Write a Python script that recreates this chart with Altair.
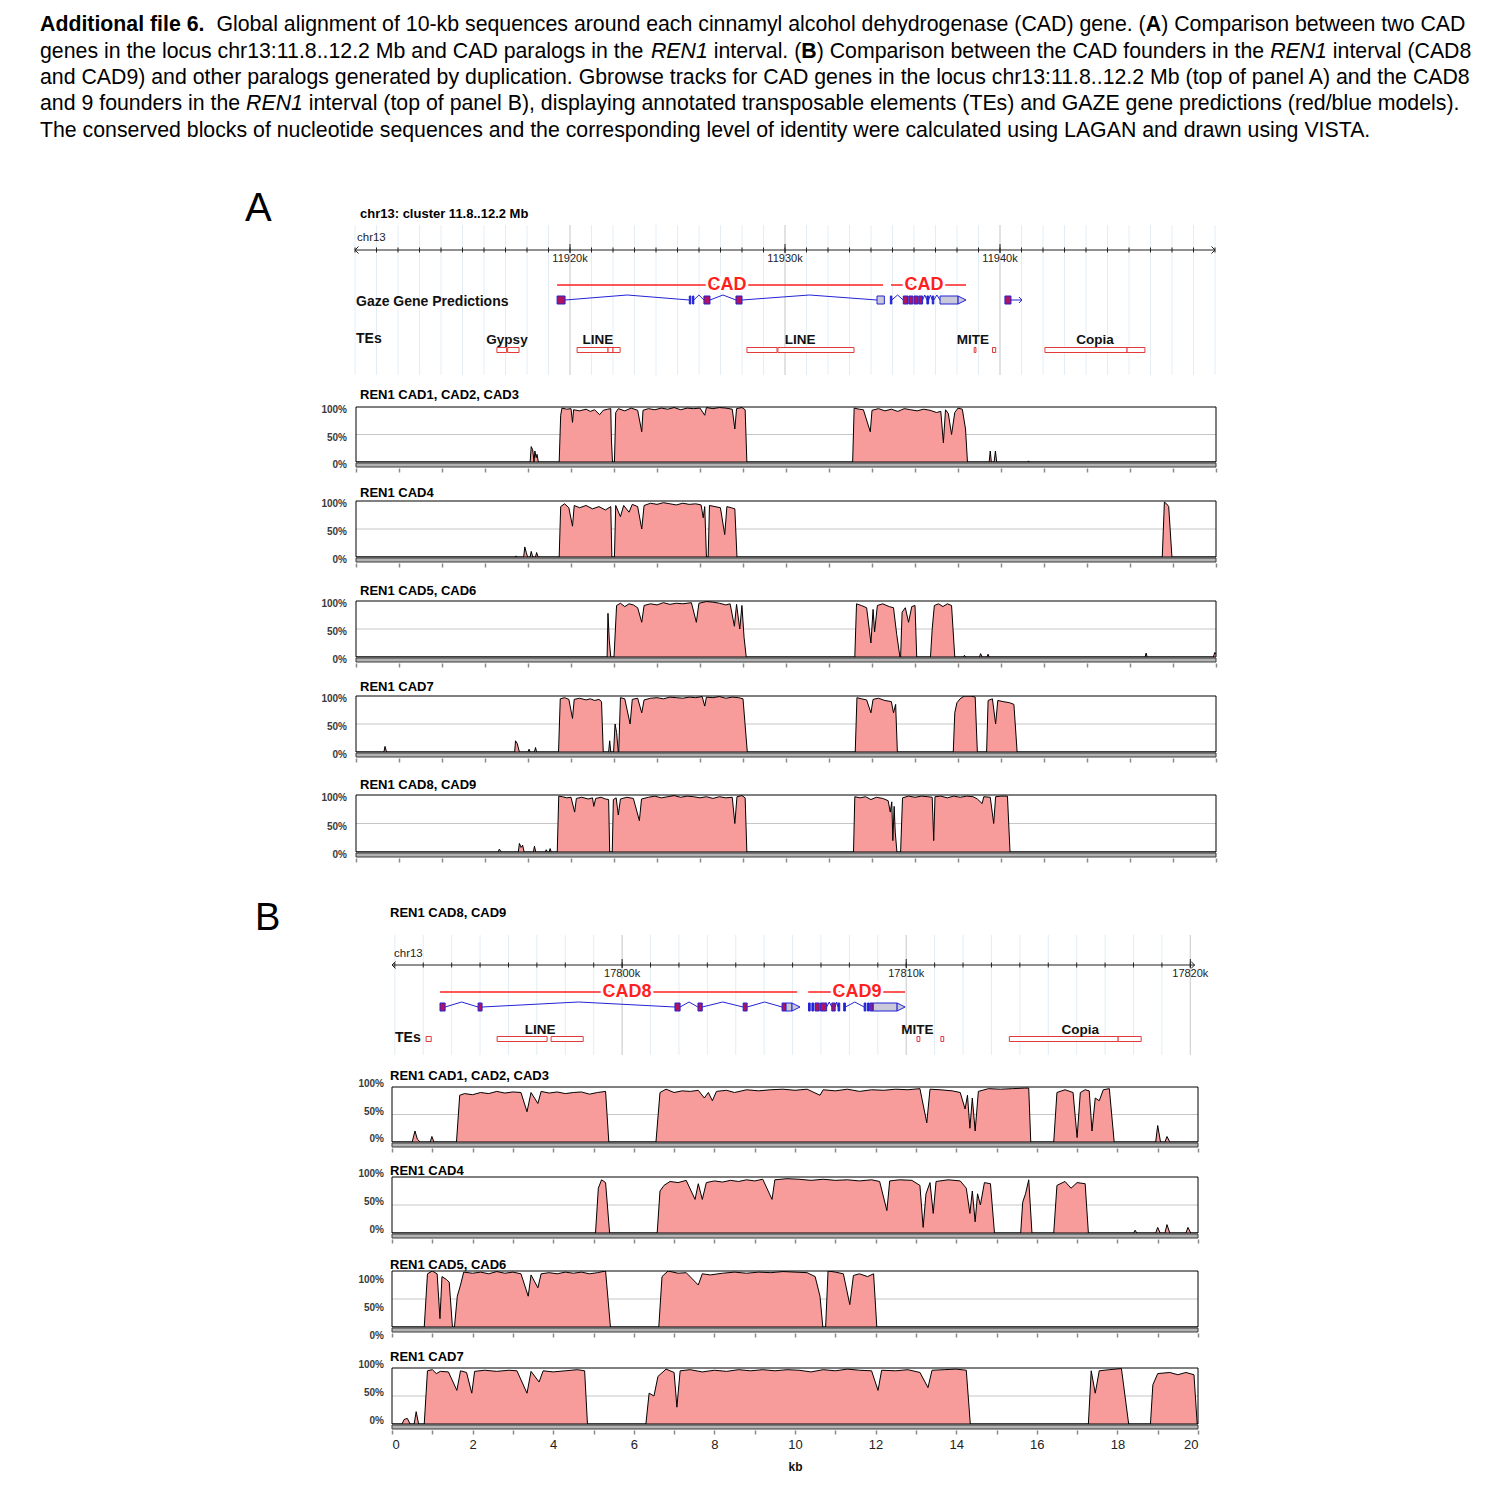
import altair as alt
import pandas as pd

FONT = "Liberation Sans"
PINK = "#f89b9b"
GENE_RED = "#ff1f1f"
TE_RED = "#e23a3a"
BLUE = "#2323d6"
EXON_FILL = "#b0125e"
UTR_FILL = "#c9c9d9"
PAGE_W = 1496
ONE = pd.DataFrame({"k": [0]})

# ---------------------------------------------------------------- caption
CAPTION = [
    [("Additional file 6.", "bold"),
     ("  Global alignment of 10-kb sequences around each cinnamyl alcohol dehydrogenase (CAD) gene. (", "normal"),
     ("A", "bold"), (") Comparison between two CAD", "normal")],
    [("genes in the locus chr13:11.8..12.2 Mb and CAD paralogs in the ", "normal"), ("REN1", "italic"),
     (" interval. (", "normal"), ("B", "bold"), (") Comparison between the CAD founders in the ", "normal"),
     ("REN1", "italic"), (" interval (CAD8", "normal")],
    [("and CAD9) and other paralogs generated by duplication. Gbrowse tracks for CAD genes in the locus "
      "chr13:11.8..12.2 Mb (top of panel A) and the CAD8", "normal")],
    [("and 9 founders in the ", "normal"), ("REN1", "italic"),
     (" interval (top of panel B), displaying annotated transposable elements (TEs) and GAZE gene "
      "predictions (red/blue models).", "normal")],
    [("The conserved blocks of nucleotide sequences and the corresponding level of identity were calculated "
      "using LAGAN and drawn using VISTA.", "normal")],
]
CAP_LEFT = 32
CAP_RIGHT_LAST = 1364
CAP_BASELINES = [23, 50, 76, 102, 129]

# ---------------------------------------------------------------- gbrowse A
GB_A_DOMAIN = [11910, 11950]
GB_A_TICKS = list(range(11910, 11951))
GB_A_MAJOR = [11920, 11930, 11940]
GB_A_TICKLABELS = ["11920k", "11930k", "11940k"]
GB_A_SPANS = [(11919.40, 11934.56, "CAD", 11927.30), (11934.93, 11938.42, "CAD", 11936.47)]
GB_A_EXONS = [(11919.40, 11919.77, "cds"), (11925.55, 11925.62, "bar"), (11925.70, 11925.76, "bar"),
              (11926.23, 11926.51, "cds"), (11927.72, 11928.00, "cds"), (11934.28, 11934.62, "utr"),
              (11934.90, 11934.97, "bar"), (11935.50, 11935.72, "cds"), (11935.76, 11935.95, "cds"),
              (11936.00, 11936.18, "cds"), (11936.22, 11936.40, "cds"), (11936.60, 11936.68, "bar"),
              (11936.85, 11936.92, "bar"), (11937.21, 11938.05, "utr"), (11940.23, 11940.51, "cds")]
GB_A_INTRONS = [(11919.77, 11925.55), (11925.76, 11926.23), (11926.51, 11927.72), (11928.00, 11934.28),
                (11934.97, 11935.50), (11936.40, 11936.60), (11936.68, 11936.85), (11936.92, 11937.21)]
GB_A_TIPS = [11938.05]
GB_A_ARROWS = [(11940.51, 11941.02)]
GB_A_TES = [(11916.60, 11917.05), (11917.10, 11917.63), (11920.33, 11921.77), (11921.77, 11922.00),
            (11922.00, 11922.33), (11928.23, 11929.63), (11929.67, 11933.21), (11938.80, 11938.88),
            (11939.65, 11939.80), (11942.09, 11945.91), (11945.91, 11946.74)]
GB_A_TELABELS = [("Gypsy", 11917.07), ("LINE", 11921.30), ("LINE", 11930.70), ("MITE", 11938.74), ("Copia", 11944.42)]

# ---------------------------------------------------------------- gbrowse B
GB_B_DOMAIN = [17791.9, 17820.2]
GB_B_TICKS = list(range(17792, 17821))
GB_B_MAJOR = [17800, 17810, 17820]
GB_B_TICKLABELS = ["17800k", "17810k", "17820k"]
GB_B_SPANS = [(17793.59, 17806.16, "CAD8", 17800.17), (17806.55, 17809.96, "CAD9", 17808.27)]
GB_B_EXONS = [(17793.59, 17793.77, "cds"), (17794.93, 17795.07, "cds"), (17801.86, 17802.04, "cds"),
              (17802.67, 17802.82, "cds"), (17804.26, 17804.40, "cds"), (17805.63, 17805.77, "cds"),
              (17805.77, 17805.98, "utr"), (17806.56, 17806.62, "bar"), (17806.68, 17806.74, "bar"),
              (17806.79, 17806.94, "cds"), (17806.98, 17807.20, "cds"), (17807.38, 17807.50, "cds"),
              (17807.60, 17807.66, "bar"), (17807.80, 17807.86, "bar"), (17808.52, 17808.58, "bar"),
              (17808.64, 17808.70, "bar"), (17808.73, 17808.84, "cds"), (17808.84, 17809.68, "utr")]
GB_B_INTRONS = [(17793.77, 17794.93), (17795.07, 17801.86), (17802.04, 17802.67), (17802.82, 17804.26),
                (17804.40, 17805.63), (17807.20, 17807.38), (17807.50, 17807.60), (17807.86, 17808.52)]
GB_B_TIPS = [17805.98, 17809.68]
GB_B_TES = [(17793.10, 17793.28), (17795.60, 17797.36), (17797.50, 17798.63), (17810.38, 17810.48),
            (17811.22, 17811.32), (17813.63, 17817.46), (17817.46, 17818.27)]
GB_B_TELABELS = [("LINE", 17797.11), ("MITE", 17810.39), ("Copia", 17816.13)]

# ---------------------------------------------------------------- VISTA profiles (kb, % identity)
A1 = [(0, 0), (8.10, 0), (8.15, 28), (8.22, 22), (8.28, 0), (8.32, 20), (8.38, 8), (8.42, 14), (8.48, 0),
      (9.45, 0), (9.52, 85), (9.58, 98), (9.8, 96), (10.0, 97), (10.07, 72), (10.12, 95), (10.4, 93), (10.7, 96),
      (10.9, 92), (11.1, 95), (11.33, 86), (11.5, 94), (11.7, 96), (11.85, 97), (11.88, 40), (11.93, 0),
      (12.02, 0), (12.08, 90), (12.2, 97), (12.5, 93), (12.8, 98), (13.1, 94), (13.29, 55), (13.35, 94),
      (13.6, 97), (13.9, 95), (14.2, 98), (14.5, 96), (14.8, 99), (15.1, 95), (15.4, 98), (15.7, 97), (16.0, 98),
      (16.22, 85), (16.3, 99), (16.6, 97), (16.9, 99), (17.2, 98), (17.5, 96), (17.62, 60), (17.7, 97),
      (17.95, 99), (18.1, 95), (18.18, 0),
      (23.1, 0), (23.17, 98), (23.4, 96), (23.6, 95), (23.92, 55), (24.0, 94), (24.3, 97), (24.6, 93), (24.9, 96),
      (25.2, 92), (25.5, 97), (25.8, 95), (26.1, 93), (26.4, 96), (26.7, 94), (27.0, 90), (27.2, 92), (27.32, 35),
      (27.42, 95), (27.55, 88), (27.7, 50), (27.85, 90), (28.0, 98), (28.2, 96), (28.35, 60), (28.44, 0),
      (29.45, 0), (29.5, 20), (29.55, 0), (29.68, 0), (29.74, 20), (29.8, 0), (31.25, 0), (31.28, 2), (31.31, 0),
      (40, 0)]
A2 = [(0, 0), (7.4, 0), (7.45, 2), (7.5, 0), (7.8, 0), (7.85, 18), (7.92, 8), (7.98, 0), (8.1, 0), (8.15, 10),
      (8.22, 0), (8.35, 0), (8.4, 8), (8.47, 0),
      (9.45, 0), (9.52, 90), (9.7, 95), (9.9, 88), (10.07, 55), (10.15, 92), (10.4, 88), (10.7, 92), (11.0, 86),
      (11.3, 90), (11.6, 84), (11.85, 90), (11.9, 0),
      (12.02, 0), (12.08, 92), (12.3, 72), (12.45, 92), (12.7, 80), (12.85, 94), (13.1, 90), (13.29, 50),
      (13.4, 92), (13.7, 96), (14.0, 94), (14.3, 97), (14.6, 95), (14.9, 93), (15.2, 96), (15.5, 94), (15.8, 95),
      (16.05, 93), (16.15, 70), (16.22, 90), (16.3, 0),
      (16.38, 0), (16.44, 92), (16.7, 90), (16.95, 88), (17.15, 40), (17.25, 90), (17.45, 88), (17.62, 86),
      (17.72, 0),
      (37.5, 0), (37.6, 98), (37.7, 95), (37.8, 90), (37.95, 0), (40, 0)]
A3 = [(0, 0), (11.68, 0), (11.72, 78), (11.78, 30), (11.85, 0), (12.0, 0), (12.12, 92), (12.3, 96), (12.5, 90),
      (12.7, 95), (12.9, 93), (13.1, 88), (13.29, 62), (13.4, 92), (13.7, 95), (14.0, 93), (14.3, 97), (14.6, 94),
      (14.9, 96), (15.2, 95), (15.6, 97), (15.83, 62), (15.95, 96), (16.3, 99), (16.6, 98), (16.9, 96),
      (17.2, 93), (17.4, 95), (17.6, 55), (17.7, 94), (17.85, 50), (17.95, 92), (18.05, 35), (18.15, 0),
      (23.2, 0), (23.28, 95), (23.5, 92), (23.75, 88), (23.95, 25), (24.05, 85), (24.12, 45), (24.25, 92),
      (24.5, 95), (24.8, 90), (25.0, 88), (25.15, 40), (25.3, 0),
      (25.33, 0), (25.4, 80), (25.55, 88), (25.7, 62), (25.85, 90), (26.0, 92), (26.08, 0),
      (26.72, 0), (26.8, 50), (26.9, 92), (27.1, 95), (27.3, 90), (27.5, 95), (27.7, 92), (27.85, 0),
      (28.25, 0), (28.3, 3), (28.35, 0), (29.0, 0), (29.05, 6), (29.12, 0), (29.35, 0), (29.4, 5), (29.45, 0),
      (36.7, 0), (36.75, 7), (36.8, 0), (39.88, 0), (39.94, 8), (40, 5)]
A4 = [(0, 0), (1.3, 0), (1.35, 10), (1.42, 0), (7.38, 0), (7.42, 20), (7.5, 15), (7.6, 0), (8.0, 0), (8.05, 5),
      (8.1, 0), (8.3, 0), (8.35, 8), (8.4, 0),
      (9.42, 0), (9.5, 95), (9.7, 97), (9.9, 94), (10.07, 60), (10.15, 94), (10.4, 96), (10.7, 93), (10.9, 95),
      (11.1, 92), (11.3, 94), (11.42, 90), (11.5, 0),
      (11.75, 0), (11.8, 20), (11.85, 0), (11.98, 0), (12.05, 50), (12.12, 35), (12.2, 0),
      (12.22, 0), (12.3, 97), (12.5, 95), (12.75, 50), (12.85, 94), (13.1, 96), (13.29, 70), (13.4, 93),
      (13.7, 96), (14.0, 97), (14.3, 95), (14.6, 98), (14.9, 97), (15.2, 96), (15.5, 98), (15.8, 97), (16.1, 99),
      (16.22, 82), (16.3, 98), (16.6, 97), (16.9, 99), (17.2, 96), (17.5, 98), (17.8, 97), (18.0, 95), (18.2, 0),
      (23.22, 0), (23.3, 97), (23.5, 95), (23.75, 93), (23.95, 70), (24.05, 94), (24.3, 96), (24.6, 92),
      (24.9, 90), (25.0, 70), (25.1, 85), (25.18, 0),
      (27.78, 0), (27.85, 70), (27.95, 88), (28.1, 95), (28.3, 100), (28.6, 100), (28.8, 98), (28.9, 0),
      (29.33, 0), (29.4, 92), (29.6, 95), (29.75, 50), (29.85, 92), (30.1, 90), (30.4, 88), (30.6, 85),
      (30.75, 0), (40, 0)]
A5 = [(0, 0), (6.6, 0), (6.67, 5), (6.75, 0), (7.55, 0), (7.6, 15), (7.68, 8), (7.75, 12), (7.82, 0),
      (8.25, 0), (8.3, 10), (8.36, 0), (8.8, 0), (8.85, 4), (8.9, 0), (8.98, 0), (9.03, 6), (9.08, 0),
      (9.36, 0), (9.43, 98), (9.6, 97), (9.8, 95), (10.0, 96), (10.17, 70), (10.25, 94), (10.5, 96), (10.8, 93),
      (11.0, 95), (11.06, 80), (11.15, 94), (11.4, 96), (11.6, 93), (11.75, 92), (11.8, 0),
      (11.92, 0), (11.97, 92), (12.1, 95), (12.2, 65), (12.3, 93), (12.6, 96), (12.9, 94), (13.18, 55),
      (13.28, 93), (13.6, 96), (13.9, 98), (14.2, 95), (14.5, 97), (14.8, 99), (15.1, 96), (15.4, 98),
      (15.7, 97), (16.0, 95), (16.3, 97), (16.6, 94), (16.9, 97), (17.2, 95), (17.5, 96), (17.62, 50),
      (17.72, 97), (17.95, 99), (18.1, 95), (18.18, 0),
      (23.14, 0), (23.2, 97), (23.45, 95), (23.7, 97), (23.95, 92), (24.2, 96), (24.5, 94), (24.75, 90),
      (24.85, 70), (24.92, 88), (24.97, 20), (25.03, 80), (25.08, 35), (25.16, 0),
      (25.33, 0), (25.42, 95), (25.7, 98), (26.0, 96), (26.3, 98), (26.6, 97), (26.8, 96), (26.87, 20),
      (26.93, 97), (27.2, 98), (27.5, 95), (27.8, 98), (28.1, 96), (28.4, 98), (28.7, 97), (28.9, 93),
      (29.12, 85), (29.2, 97), (29.5, 96), (29.66, 50), (29.75, 97), (30.0, 98), (30.3, 98), (30.42, 0),
      (40, 0)]
B1 = [(0, 0), (0.5, 0), (0.57, 20), (0.63, 5), (0.7, 0), (0.95, 0), (0.99, 10), (1.04, 0),
      (1.6, 0), (1.68, 85), (1.8, 88), (2.0, 86), (2.2, 90), (2.4, 88), (2.6, 92), (2.8, 89), (3.0, 91),
      (3.2, 90), (3.35, 55), (3.45, 90), (3.62, 70), (3.7, 92), (3.9, 89), (4.1, 91), (4.3, 88), (4.5, 90),
      (4.7, 91), (4.9, 87), (5.1, 90), (5.3, 92), (5.38, 0),
      (6.55, 0), (6.65, 90), (6.8, 96), (7.0, 90), (7.2, 93), (7.4, 92), (7.6, 94), (7.75, 80), (7.85, 90),
      (7.95, 75), (8.05, 92), (8.3, 94), (8.5, 90), (8.8, 95), (9.1, 93), (9.4, 95), (9.7, 96), (10.0, 94),
      (10.3, 96), (10.62, 85), (10.7, 95), (11.0, 93), (11.3, 96), (11.6, 92), (11.9, 95), (12.2, 94),
      (12.5, 96), (12.8, 95), (13.1, 97), (13.27, 35), (13.35, 96), (13.6, 95), (13.9, 93), (14.1, 90),
      (14.22, 60), (14.28, 85), (14.34, 25), (14.4, 80), (14.47, 20), (14.55, 92), (14.8, 97), (15.1, 96),
      (15.4, 97), (15.7, 98), (15.8, 98), (15.85, 0),
      (16.42, 0), (16.5, 90), (16.7, 95), (16.9, 90), (17.0, 8), (17.08, 90), (17.2, 95), (17.3, 93),
      (17.37, 20), (17.45, 80), (17.55, 75), (17.65, 95), (17.8, 97), (17.92, 0),
      (18.95, 0), (19.0, 30), (19.07, 0), (19.18, 0), (19.23, 10), (19.3, 0), (20, 0)]
B2 = [(0, 0), (5.05, 0), (5.12, 80), (5.2, 95), (5.3, 90), (5.4, 0),
      (6.58, 0), (6.65, 75), (6.75, 85), (6.9, 92), (7.1, 90), (7.3, 94), (7.52, 60), (7.6, 88), (7.7, 60),
      (7.8, 90), (8.0, 93), (8.2, 91), (8.4, 94), (8.6, 92), (8.8, 95), (9.0, 93), (9.2, 96), (9.43, 60),
      (9.5, 95), (9.8, 97), (10.1, 96), (10.4, 94), (10.7, 96), (11.0, 94), (11.3, 95), (11.6, 93), (11.9, 95),
      (12.1, 92), (12.28, 40), (12.35, 93), (12.6, 95), (12.9, 94), (13.1, 85), (13.18, 10), (13.25, 70),
      (13.35, 90), (13.43, 35), (13.5, 92), (13.8, 95), (14.1, 93), (14.25, 80), (14.34, 35), (14.4, 75),
      (14.47, 20), (14.53, 70), (14.6, 50), (14.7, 90), (14.85, 88), (14.95, 0),
      (15.6, 0), (15.65, 55), (15.72, 70), (15.8, 95), (15.88, 0),
      (16.42, 0), (16.5, 85), (16.7, 92), (16.85, 80), (17.0, 90), (17.2, 88), (17.28, 0),
      (18.4, 0), (18.44, 5), (18.48, 0), (18.95, 0), (19.0, 10), (19.06, 0), (19.18, 0), (19.23, 15), (19.3, 0),
      (19.7, 0), (19.75, 10), (19.82, 0), (20, 0)]
B3 = [(0, 0), (0.8, 0), (0.88, 95), (1.0, 100), (1.12, 95), (1.19, 15), (1.24, 90), (1.35, 85), (1.42, 80),
      (1.5, 0),
      (1.55, 0), (1.62, 55), (1.7, 75), (1.78, 98), (2.0, 96), (2.2, 98), (2.4, 95), (2.6, 99), (2.8, 96),
      (3.0, 98), (3.2, 95), (3.38, 55), (3.45, 93), (3.62, 70), (3.7, 95), (3.9, 97), (4.1, 95), (4.3, 98),
      (4.5, 96), (4.7, 98), (4.9, 95), (5.1, 97), (5.3, 100), (5.42, 0),
      (6.62, 0), (6.7, 90), (6.85, 100), (7.1, 96), (7.3, 97), (7.6, 75), (7.7, 95), (7.9, 93), (8.2, 96),
      (8.5, 98), (8.8, 96), (9.1, 98), (9.4, 97), (9.7, 99), (10.0, 98), (10.3, 97), (10.5, 90), (10.62, 55),
      (10.69, 0),
      (10.76, 0), (10.82, 100), (11.0, 98), (11.2, 95), (11.36, 40), (11.45, 92), (11.6, 95), (11.8, 90),
      (11.95, 95), (12.03, 0), (20, 0)]
B4 = [(0, 0), (0.25, 0), (0.3, 8), (0.38, 10), (0.45, 0), (0.55, 0), (0.6, 22), (0.66, 0),
      (0.8, 0), (0.88, 95), (1.0, 97), (1.1, 90), (1.2, 94), (1.4, 93), (1.61, 60), (1.7, 95), (1.85, 92),
      (1.98, 55), (2.05, 94), (2.3, 96), (2.6, 94), (2.9, 96), (3.1, 95), (3.35, 55), (3.45, 94), (3.65, 75),
      (3.75, 95), (4.0, 93), (4.3, 95), (4.6, 97), (4.78, 95), (4.85, 0),
      (6.3, 0), (6.38, 55), (6.5, 50), (6.6, 85), (6.8, 98), (7.0, 92), (7.07, 30), (7.15, 95), (7.4, 97),
      (7.7, 93), (8.0, 96), (8.3, 94), (8.6, 97), (8.9, 95), (9.2, 97), (9.5, 95), (9.8, 97), (10.1, 96),
      (10.4, 93), (10.7, 97), (11.0, 95), (11.3, 98), (11.6, 96), (11.9, 95), (12.06, 60), (12.15, 96),
      (12.5, 95), (12.8, 97), (13.1, 92), (13.3, 65), (13.4, 96), (13.7, 97), (14.0, 98), (14.25, 96),
      (14.35, 0),
      (17.28, 0), (17.35, 95), (17.45, 55), (17.55, 95), (17.8, 97), (18.1, 99), (18.28, 0),
      (18.82, 0), (18.88, 70), (19.0, 90), (19.3, 92), (19.5, 88), (19.7, 92), (19.9, 88), (19.98, 0), (20, 0)]

# ---------------------------------------------------------------- Arial / Liberation Sans advance widths
REG_W = {" ": 278, "(": 333, ")": 333, ",": 278, "-": 333, ".": 278, "/": 278, ":": 278,
         "A": 667, "B": 667, "C": 722, "D": 722, "E": 667, "F": 611, "G": 778, "H": 722, "I": 278, "J": 500,
         "K": 667, "L": 556, "M": 833, "N": 722, "O": 778, "P": 667, "Q": 778, "R": 722, "S": 667, "T": 611,
         "U": 722, "V": 667, "W": 944, "X": 667, "Y": 667, "Z": 611,
         "a": 556, "b": 556, "c": 500, "d": 556, "e": 556, "f": 278, "g": 556, "h": 556, "i": 222, "j": 222,
         "k": 500, "l": 222, "m": 833, "n": 556, "o": 556, "p": 556, "q": 556, "r": 333, "s": 500, "t": 278,
         "u": 556, "v": 500, "w": 722, "x": 500, "y": 500, "z": 500}
BOLD_W = {" ": 278, "(": 333, ")": 333, ".": 278, "A": 722, "B": 722, "a": 556, "d": 611, "e": 556,
          "f": 333, "i": 278, "l": 278, "n": 611, "o": 611, "t": 333}


def tw(s, style):
    table = BOLD_W if style == "bold" else REG_W
    return sum(table.get(c, 556) for c in s)


cap_fs = (CAP_RIGHT_LAST - CAP_LEFT) * 1000.0 / tw(CAPTION[-1][0][0], "normal")
cap_rows = []
for line, base in zip(CAPTION, CAP_BASELINES):
    x = CAP_LEFT
    for seg, style in line:
        lead = len(seg) - len(seg.lstrip(" "))
        cap_rows.append({"x": x + tw(" " * lead, style) * cap_fs / 1000.0, "y": base,
                         "text": seg.strip(" "), "style": style})
        x += tw(seg, style) * cap_fs / 1000.0
cap_df = pd.DataFrame(cap_rows)

cap_layers = []
for style, weight, fstyle in [("normal", "normal", "normal"), ("bold", "bold", "normal"),
                              ("italic", "normal", "italic")]:
    cap_layers.append(
        alt.Chart(cap_df[cap_df["style"] == style]).mark_text(
            align="left", baseline="alphabetic", font=FONT, fontSize=cap_fs, fontWeight=weight,
            fontStyle=fstyle, color="black").encode(
            x=alt.X("x:Q", scale=None), y=alt.Y("y:Q", scale=None), text="text:N"))
caption = alt.layer(*cap_layers).properties(width=PAGE_W, height=217)


# ---------------------------------------------------------------- gbrowse panel builder
def gbrowse(domain, rng, H, ticks, majors, tick_labels, line_end, y_axis, y_chr, y_span, y_model,
            y_te_lab, y_te_box, spans, exons, introns, tips, arrows, tes, te_labels, track_labels, extras):
    xs = alt.Scale(domain=domain, range=rng, nice=False, zero=False)

    def X(f):
        return alt.X(f, scale=xs, axis=None)

    def XD(v):
        return alt.X(datum=v, scale=xs, axis=None)

    L = []
    tdf = pd.DataFrame({"t": ticks})
    mdf = pd.DataFrame({"t": majors, "lab": tick_labels})
    L.append(alt.Chart(tdf).mark_rule(color="#e2eef4", strokeWidth=1).encode(
        x=X("t:Q"), y=alt.value(0), y2=alt.value(H)))
    L.append(alt.Chart(mdf).mark_rule(color="#cfcfcf", strokeWidth=1).encode(
        x=X("t:Q"), y=alt.value(0), y2=alt.value(H)))
    L.append(alt.Chart(ONE).mark_rule(color="#222222", strokeWidth=1).encode(
        x=XD(domain[0]), x2=alt.X2(datum=line_end), y=alt.value(y_axis)))
    L.append(alt.Chart(tdf).mark_rule(color="#222222", strokeWidth=1).encode(
        x=X("t:Q"), y=alt.value(y_axis - 2.5), y2=alt.value(y_axis + 2.5)))
    L.append(alt.Chart(mdf).mark_rule(color="#222222", strokeWidth=1).encode(
        x=X("t:Q"), y=alt.value(y_axis - 6), y2=alt.value(y_axis + 3)))
    L.append(alt.Chart(ONE).mark_point(shape="M 1 -1 L 0 0 L 1 1", filled=False, color="#222222",
                                       strokeWidth=1, size=49, opacity=1).encode(
        x=XD(domain[0]), y=alt.value(y_axis)))
    L.append(alt.Chart(ONE).mark_point(shape="M -1 -1 L 0 0 L -1 1", filled=False, color="#222222",
                                       strokeWidth=1, size=49, opacity=1).encode(
        x=XD(line_end), y=alt.value(y_axis)))
    L.append(alt.Chart(mdf).mark_text(font=FONT, fontSize=11, color="#222222", baseline="middle").encode(
        x=X("t:Q"), y=alt.value(y_axis + 9), text="lab:N"))
    L.append(alt.Chart(ONE).mark_text(font=FONT, fontSize=11.5, color="#222222", align="left",
                                      baseline="middle", dx=2).encode(
        x=XD(domain[0]), y=alt.value(y_chr), text=alt.value("chr13")))
    # gene spans
    sdf = pd.DataFrame(spans, columns=["start", "end", "label", "center"])
    L.append(alt.Chart(sdf).mark_rule(color=GENE_RED, strokeWidth=1.5).encode(
        x=X("start:Q"), x2="end:Q", y=alt.value(y_span)))
    L.append(alt.Chart(sdf).mark_text(font=FONT, fontSize=18, fontWeight="bold", color="white",
                                      stroke="white", strokeWidth=5, baseline="middle").encode(
        x=X("center:Q"), y=alt.value(y_span), text="label:N"))
    L.append(alt.Chart(sdf).mark_text(font=FONT, fontSize=18, fontWeight="bold", color=GENE_RED,
                                      baseline="middle").encode(
        x=X("center:Q"), y=alt.value(y_span), text="label:N"))
    # gene models
    idf = pd.DataFrame(introns, columns=["start", "end"])
    base_i = alt.Chart(idf).transform_calculate(mid="(datum.start + datum.end) / 2")
    L.append(base_i.mark_rule(color=BLUE, strokeWidth=1).encode(
        x=X("start:Q"), x2="mid:Q", y=alt.value(y_model), y2=alt.value(y_model - 5)))
    L.append(base_i.mark_rule(color=BLUE, strokeWidth=1).encode(
        x=X("mid:Q"), x2="end:Q", y=alt.value(y_model - 5), y2=alt.value(y_model)))
    if arrows:
        adf = pd.DataFrame(arrows, columns=["start", "end"])
        L.append(alt.Chart(adf).mark_rule(color=BLUE, strokeWidth=1).encode(
            x=X("start:Q"), x2="end:Q", y=alt.value(y_model)))
        L.append(alt.Chart(adf).mark_point(shape="M -1 -1 L 0 0 L -1 1", filled=False, color=BLUE,
                                           strokeWidth=1, size=36, opacity=1).encode(
            x=X("end:Q"), y=alt.value(y_model)))
    edf = pd.DataFrame(exons, columns=["start", "end", "kind"])
    L.append(alt.Chart(edf).mark_rect(stroke=BLUE, strokeWidth=1).encode(
        x=X("start:Q"), x2="end:Q", y=alt.value(y_model - 4), y2=alt.value(y_model + 4),
        color=alt.Color("kind:N", scale=alt.Scale(domain=["cds", "bar", "utr"],
                                                  range=[EXON_FILL, BLUE, UTR_FILL]), legend=None)))
    tpdf = pd.DataFrame({"t": tips})
    L.append(alt.Chart(tpdf).mark_point(shape="M 0 -1 L 2 0 L 0 1 Z", filled=True, fill=UTR_FILL,
                                        stroke=BLUE, strokeWidth=1, size=64, opacity=1).encode(
        x=X("t:Q"), y=alt.value(y_model)))
    # transposable elements
    tedf = pd.DataFrame(tes, columns=["start", "end"])
    L.append(alt.Chart(tedf).mark_rect(fill="white", stroke=TE_RED, strokeWidth=1).encode(
        x=X("start:Q"), x2="end:Q", y=alt.value(y_te_box - 2.5), y2=alt.value(y_te_box + 2.5)))
    tldf = pd.DataFrame(te_labels, columns=["label", "pos"])
    L.append(alt.Chart(tldf).mark_text(font=FONT, fontSize=13.5, fontWeight="bold", color="#111111",
                                       baseline="middle").encode(
        x=X("pos:Q"), y=alt.value(y_te_lab), text="label:N"))
    for txt, ty, tdx in track_labels:
        L.append(alt.Chart(ONE).mark_text(font=FONT, fontSize=14, fontWeight="bold", color="#111111",
                                          align="left", baseline="middle", dx=tdx).encode(
            x=XD(domain[0]), y=alt.value(ty), text=alt.value(txt)))
    for txt, ex, ey, esize, eweight in extras:
        L.append(alt.Chart(ONE).mark_text(font=FONT, fontSize=esize, fontWeight=eweight, color="black",
                                          align="left", baseline="alphabetic").encode(
            x=alt.value(ex), y=alt.value(ey), text=alt.value(txt)))
    return alt.layer(*L).properties(width=PAGE_W, height=H)


# ---------------------------------------------------------------- VISTA panel builder
def vista(profile, title, title_x, title_y, xmax, rng, H, tick_step, label_dx, label_dy, bottom=False):
    xs = alt.Scale(domain=[0, xmax], range=rng, nice=False, zero=False)
    ys = alt.Scale(domain=[0, 100], nice=False, zero=False)
    df = pd.DataFrame(profile, columns=["pos", "ident"])
    tick_vals = list(range(0, xmax + 1, tick_step))
    if bottom:
        axis = alt.Axis(values=tick_vals, domain=False, grid=False, tickSize=4, tickWidth=1.5,
                        tickColor="#8a8a8a", offset=6,
                        labelExpr="datum.value % 2 == 0 ? datum.label : ''", labelFont=FONT,
                        labelFontSize=13, labelColor="#222222", labelPadding=4, title="kb",
                        titleFont=FONT, titleFontSize=12, titleFontWeight="bold", titlePadding=10,
                        titleColor="#111111")
    else:
        axis = alt.Axis(values=tick_vals, domain=False, grid=False, tickSize=4, tickWidth=1.5,
                        tickColor="#8a8a8a", offset=6, labels=False, title=None)

    def XD(v):
        return alt.X(datum=v, scale=xs, axis=axis)

    grid = alt.Chart(ONE).mark_rule(color="#c6c6c6", strokeWidth=1).encode(
        x=XD(0), x2=alt.X2(datum=xmax), y=alt.Y(datum=50, scale=ys, axis=None))
    area = alt.Chart(df).mark_area(color=PINK, opacity=1, interpolate="linear", clip=True,
                                   line={"color": "black", "strokeWidth": 1}).encode(
        x=alt.X("pos:Q", scale=xs, axis=axis), y=alt.Y("ident:Q", scale=ys, axis=None))
    frame = alt.Chart(ONE).mark_rect(fillOpacity=0, stroke="black", strokeWidth=1).encode(
        x=XD(0), x2=alt.X2(datum=xmax), y=alt.Y(datum=0, scale=ys, axis=None), y2=alt.Y2(datum=100))
    bar = alt.Chart(ONE).mark_rect(fill="#b3b3b3", stroke="#3a3a3a", strokeWidth=1).encode(
        x=XD(0), x2=alt.X2(datum=xmax), y=alt.value(H + 1), y2=alt.value(H + 5))
    ldf = pd.DataFrame({"v": [100, 50, 0], "lab": ["100%", "50%", "0%"]})
    labels = alt.Chart(ldf).mark_text(align="right", baseline="middle", dx=label_dx, dy=label_dy, font=FONT,
                                      fontSize=10, fontWeight="bold", color="#3a3a3a").encode(
        x=XD(0), y=alt.Y("v:Q", scale=ys, axis=None), text="lab:N")
    ttl = alt.Chart(ONE).mark_text(align="left", baseline="middle", font=FONT, fontSize=13, fontWeight="bold",
                                   color="black").encode(
        x=alt.value(title_x), y=alt.value(title_y), text=alt.value(title))
    return alt.layer(grid, area, frame, bar, labels, ttl).properties(width=PAGE_W, height=H)


def spacer(h):
    return alt.Chart(ONE).mark_point(opacity=0, size=1).encode(
        x=alt.value(10), y=alt.value(1)).properties(width=PAGE_W, height=h)


gbA = gbrowse(GB_A_DOMAIN, [347, 1207], 150, GB_A_TICKS, GB_A_MAJOR, GB_A_TICKLABELS, 11950,
              25, 13, 60, 75, 115, 125, GB_A_SPANS, GB_A_EXONS, GB_A_INTRONS, GB_A_TIPS, GB_A_ARROWS,
              GB_A_TES, GB_A_TELABELS, [("Gaze Gene Predictions", 77, 1), ("TEs", 114, 1)],
              [("A", 237, -4, 40, "normal"), ("chr13: cluster 11.8..12.2 Mb", 352, -7, 13, "bold")])
gbB = gbrowse(GB_B_DOMAIN, [384, 1188], 120, GB_B_TICKS, GB_B_MAJOR, GB_B_TICKLABELS, 17820.15,
              30, 19, 57, 72, 95, 104, GB_B_SPANS, GB_B_EXONS, GB_B_INTRONS, GB_B_TIPS, [],
              GB_B_TES, GB_B_TELABELS, [("TEs", 103, 3)],
              [("B", 247, -5, 38, "normal"), ("REN1 CAD8, CAD9", 382, -18, 13, "bold")])

RA = [348, 1208]
RB = [384, 1190]
vA1 = vista(A1, "REN1 CAD1, CAD2, CAD3", 352, -12, 40, RA, 55, 2, -9, 3)
vA2 = vista(A2, "REN1 CAD4", 352, -8, 40, RA, 56, 2, -9, 3)
vA3 = vista(A3, "REN1 CAD5, CAD6", 352, -10, 40, RA, 56, 2, -9, 3)
vA4 = vista(A4, "REN1 CAD7", 352, -9, 40, RA, 56, 2, -9, 3)
vA5 = vista(A5, "REN1 CAD8, CAD9", 352, -10, 40, RA, 57, 2, -9, 3)
vB1 = vista(B1, "REN1 CAD1, CAD2, CAD3", 382, -11, 20, RB, 55, 1, -8, -3)
vB2 = vista(B2, "REN1 CAD4", 382, -6, 20, RB, 56, 1, -8, -3)
vB3 = vista(B3, "REN1 CAD5, CAD6", 382, -6, 20, RB, 56, 1, -8, 8.5)
vB4 = vista(B4, "REN1 CAD7", 382, -11, 20, RB, 56, 1, -8, -3.5, bottom=True)

rows = [caption, gbA, spacer(32), vA1, spacer(39), vA2, spacer(44), vA3, spacer(39), vA4, spacer(43), vA5,
        spacer(83), gbB, spacer(32), vB1, spacer(35), vB2, spacer(38), vB3, spacer(41), vB4]

chart = alt.vconcat(*rows, spacing=0, bounds="flush").properties(
    padding=0, background="white").configure_view(stroke=None)

chart.save("out.html", embed_options={"renderer": "svg", "actions": False})
